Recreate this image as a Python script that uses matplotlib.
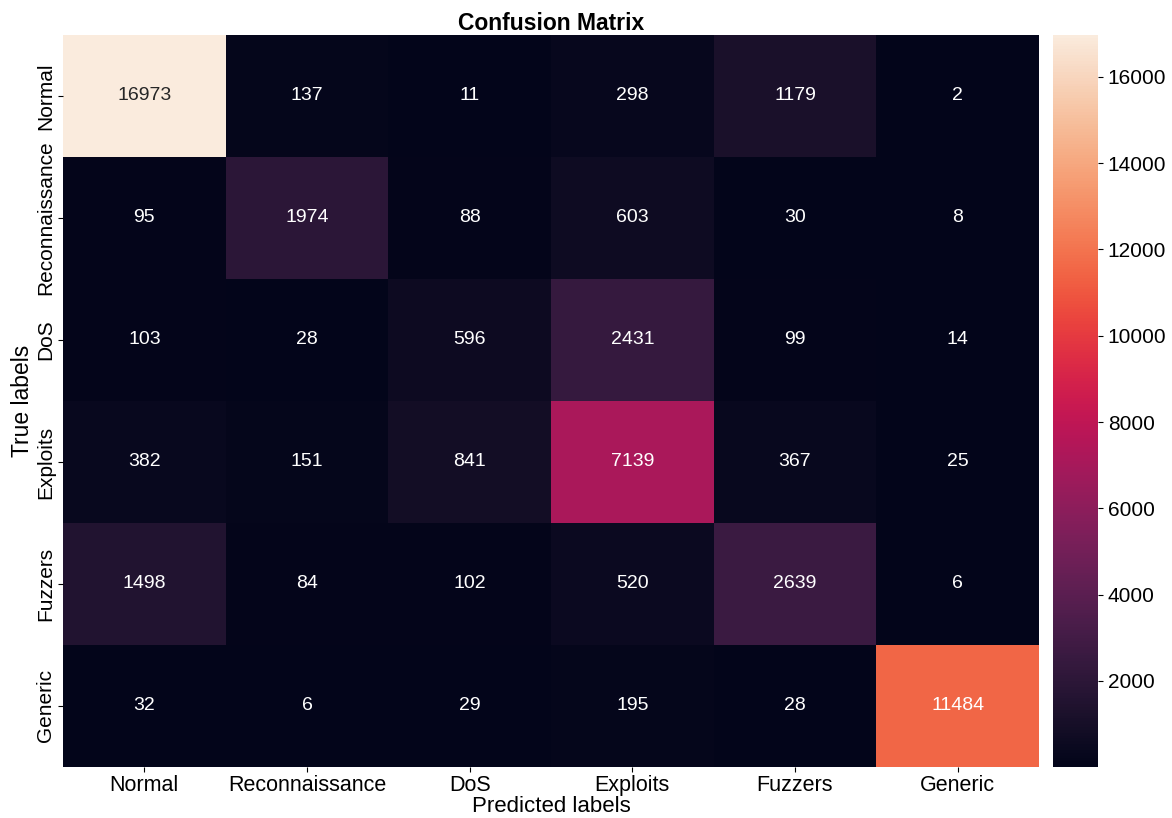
import numpy as np
import matplotlib
matplotlib.use("Agg")
import matplotlib.pyplot as plt
import seaborn as sns

labels = ['Normal', 'Reconnaissance', 'DoS', 'Exploits', 'Fuzzers', 'Generic']
cm = np.array([
    [16973, 137, 11, 298, 1179, 2],
    [95, 1974, 88, 603, 30, 8],
    [103, 28, 596, 2431, 99, 14],
    [382, 151, 841, 7139, 367, 25],
    [1498, 84, 102, 520, 2639, 6],
    [32, 6, 29, 195, 28, 11484],
])

plt.rcParams['font.family'] = ['Liberation Sans', 'DejaVu Sans']

fig = plt.figure(figsize=(11.72, 8.18), dpi=100)
ax = fig.add_axes([63 / 1172, 1 - 767 / 818, (1039 - 63) / 1172, (767 - 35) / 818])
cax = fig.add_axes([1053 / 1172, 1 - 767 / 818, 45 / 1172, (767 - 35) / 818])

sns.heatmap(cm, annot=True, fmt='d', cmap='rocket', ax=ax, cbar_ax=cax,
            xticklabels=labels, yticklabels=labels,
            annot_kws={'fontsize': 14})

ax.set_title('Confusion Matrix', fontsize=16.5, fontweight='bold', pad=3)
ax.set_xlabel('Predicted labels', fontsize=16, labelpad=0)
ax.set_ylabel('True labels', fontsize=16.5, labelpad=2)
ax.tick_params(axis='x', labelsize=15.5, pad=2)
ax.tick_params(axis='y', labelsize=15, pad=2)
plt.setp(ax.get_yticklabels(), rotation=90, va='center')
plt.setp(ax.get_xticklabels(), rotation=0)
cax.tick_params(labelsize=15)

fig.savefig('out.png', dpi=100)
